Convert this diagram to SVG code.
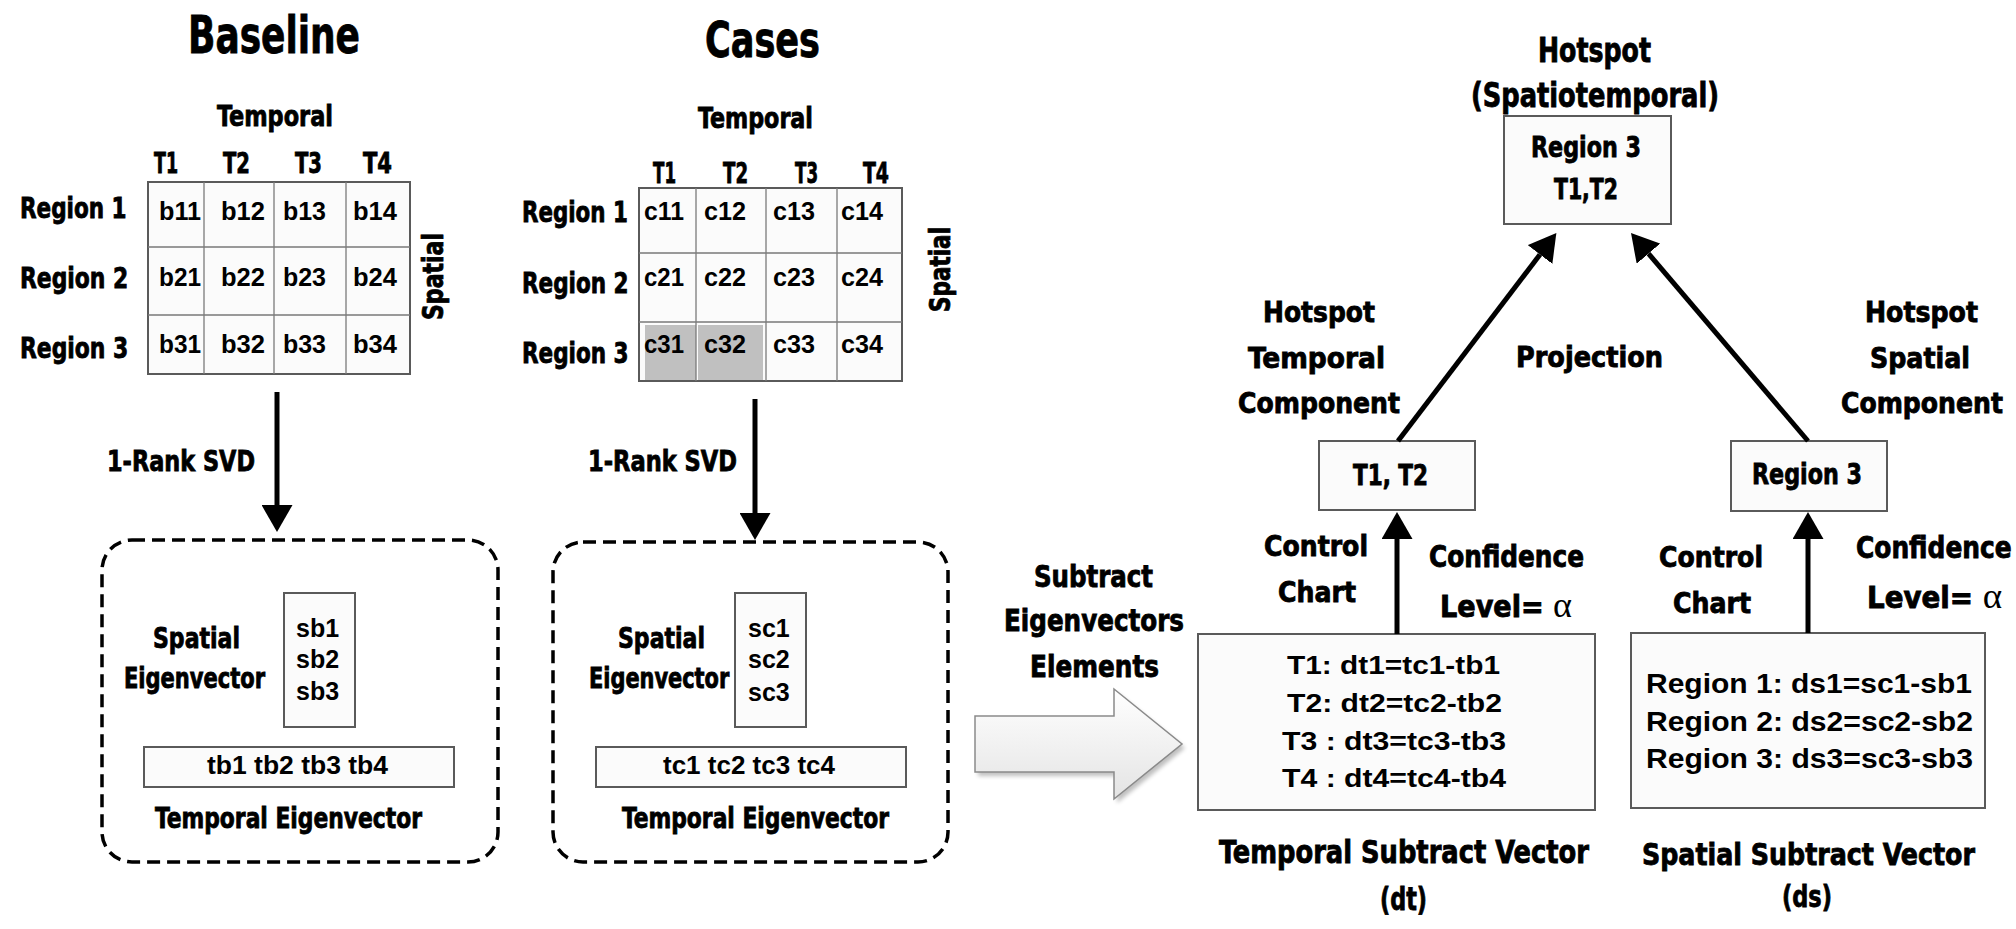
<svg xmlns="http://www.w3.org/2000/svg" width="2016" height="929" viewBox="0 0 2016 929">
<defs>
<style>
.h{font-family:"Liberation Sans Narrow","DejaVu Sans Condensed","DejaVu Sans",sans-serif;font-weight:bold;fill:#000;stroke:#000;stroke-width:0.8}
.a{font-family:"Liberation Sans",Arial,sans-serif;font-weight:bold;fill:#000}
.box{fill:#fbfbfb;stroke:#5a5a5a;stroke-width:2}
.grid{stroke:#7a7a7a;stroke-width:1.3;fill:none}
.dash{fill:none;stroke:#000;stroke-width:3.5;stroke-dasharray:13 7}
.conn{stroke:#000;stroke-width:5;fill:none}
.hl{fill:#c0c0c0}
.al{font-family:"Liberation Serif","DejaVu Serif",serif;font-weight:normal;stroke-width:0}
</style>
<marker id="ah" viewBox="0 0 27 31" markerWidth="27" markerHeight="31" refX="0" refY="15.5" orient="auto" markerUnits="userSpaceOnUse">
<path d="M0,0 L27,15.5 L0,31 z" fill="#000"/>
</marker>
<linearGradient id="bg" x1="0" y1="0" x2="0" y2="1">
<stop offset="0" stop-color="#ffffff"/>
<stop offset="1" stop-color="#e4e4e4"/>
</linearGradient>
<filter id="sh" x="-10%" y="-10%" width="130%" height="130%">
<feGaussianBlur stdDeviation="2"/>
</filter>
</defs>
<rect width="2016" height="929" fill="#fff"/>

<g id="baseline-matrix" font-size="29">
<text class="h" x="188" y="53" font-size="52" textLength="172" lengthAdjust="spacingAndGlyphs">Baseline</text>
<text class="h" x="217" y="126" textLength="116" lengthAdjust="spacingAndGlyphs">Temporal</text>
<text class="h" x="154" y="173" textLength="24" lengthAdjust="spacingAndGlyphs">T1</text>
<text class="h" x="223" y="173" textLength="27" lengthAdjust="spacingAndGlyphs">T2</text>
<text class="h" x="295" y="173" textLength="27" lengthAdjust="spacingAndGlyphs">T3</text>
<text class="h" x="363" y="173" textLength="29" lengthAdjust="spacingAndGlyphs">T4</text>
<text class="h" transform="translate(20,218) scale(0.82,1)" textLength="130" lengthAdjust="spacingAndGlyphs">Region 1</text>
<text class="h" transform="translate(20,288) scale(0.82,1)" textLength="132" lengthAdjust="spacingAndGlyphs">Region 2</text>
<text class="h" transform="translate(20,358) scale(0.82,1)" textLength="132" lengthAdjust="spacingAndGlyphs">Region 3</text>
<text class="h" transform="translate(443,277) rotate(-90)" x="-43" y="0" textLength="87" lengthAdjust="spacingAndGlyphs">Spatial</text>
<rect class="box" x="148" y="182" width="262" height="192"/>
<path class="grid" d="M204,182V374M274,182V374M346,182V374M148,247H410M148,315H410"/>
<g class="a" font-size="26">
<text x="159" y="220" textLength="42" lengthAdjust="spacingAndGlyphs">b11</text><text x="221" y="220" textLength="44" lengthAdjust="spacingAndGlyphs">b12</text><text x="283" y="220" textLength="43" lengthAdjust="spacingAndGlyphs">b13</text><text x="353" y="220" textLength="44" lengthAdjust="spacingAndGlyphs">b14</text>
<text x="159" y="286" textLength="42" lengthAdjust="spacingAndGlyphs">b21</text><text x="221" y="286" textLength="44" lengthAdjust="spacingAndGlyphs">b22</text><text x="283" y="286" textLength="43" lengthAdjust="spacingAndGlyphs">b23</text><text x="353" y="286" textLength="44" lengthAdjust="spacingAndGlyphs">b24</text>
<text x="159" y="353" textLength="42" lengthAdjust="spacingAndGlyphs">b31</text><text x="221" y="353" textLength="44" lengthAdjust="spacingAndGlyphs">b32</text><text x="283" y="353" textLength="43" lengthAdjust="spacingAndGlyphs">b33</text><text x="353" y="353" textLength="44" lengthAdjust="spacingAndGlyphs">b34</text>
</g>
</g>

<g id="cases-matrix" font-size="29">
<text class="h" x="705" y="57" font-size="50" textLength="115" lengthAdjust="spacingAndGlyphs">Cases</text>
<text class="h" x="698" y="128" textLength="115" lengthAdjust="spacingAndGlyphs">Temporal</text>
<text class="h" x="653" y="183" textLength="23" lengthAdjust="spacingAndGlyphs">T1</text>
<text class="h" x="723" y="183" textLength="25" lengthAdjust="spacingAndGlyphs">T2</text>
<text class="h" x="795" y="183" textLength="23" lengthAdjust="spacingAndGlyphs">T3</text>
<text class="h" x="863" y="183" textLength="26" lengthAdjust="spacingAndGlyphs">T4</text>
<text class="h" transform="translate(522,222) scale(0.82,1)" textLength="129" lengthAdjust="spacingAndGlyphs">Region 1</text>
<text class="h" transform="translate(522,293) scale(0.82,1)" textLength="130" lengthAdjust="spacingAndGlyphs">Region 2</text>
<text class="h" transform="translate(522,363) scale(0.82,1)" textLength="130" lengthAdjust="spacingAndGlyphs">Region 3</text>
<text class="h" transform="translate(950,270) rotate(-90)" x="-42" y="0" textLength="85" lengthAdjust="spacingAndGlyphs">Spatial</text>
<rect class="box" x="639" y="188" width="263" height="193"/>
<rect class="hl" x="645" y="325" width="51" height="55"/>
<rect class="hl" x="698" y="325" width="65" height="55"/>
<path class="grid" d="M696,188V381M766,188V381M837,188V381M639,253H902M639,322H902"/>
<g class="a" font-size="26">
<text x="644" y="220" textLength="40" lengthAdjust="spacingAndGlyphs">c11</text><text x="704" y="220" textLength="42" lengthAdjust="spacingAndGlyphs">c12</text><text x="773" y="220" textLength="42" lengthAdjust="spacingAndGlyphs">c13</text><text x="841" y="220" textLength="42" lengthAdjust="spacingAndGlyphs">c14</text>
<text x="644" y="286" textLength="40" lengthAdjust="spacingAndGlyphs">c21</text><text x="704" y="286" textLength="42" lengthAdjust="spacingAndGlyphs">c22</text><text x="773" y="286" textLength="42" lengthAdjust="spacingAndGlyphs">c23</text><text x="841" y="286" textLength="42" lengthAdjust="spacingAndGlyphs">c24</text>
<text x="644" y="353" textLength="40" lengthAdjust="spacingAndGlyphs">c31</text><text x="704" y="353" textLength="42" lengthAdjust="spacingAndGlyphs">c32</text><text x="773" y="353" textLength="42" lengthAdjust="spacingAndGlyphs">c33</text><text x="841" y="353" textLength="42" lengthAdjust="spacingAndGlyphs">c34</text>
</g>
</g>

<g id="baseline-eigen" font-size="29">
<rect class="dash" x="102" y="540" width="396" height="322" rx="30"/>
<rect class="box" x="284" y="593" width="71" height="134"/>
<g class="a" font-size="25">
<text x="296" y="637">sb1</text>
<text x="296" y="668">sb2</text>
<text x="296" y="700">sb3</text>
</g>
<text class="h" x="153" y="648" textLength="87" lengthAdjust="spacingAndGlyphs">Spatial</text>
<text class="h" transform="translate(124,688) scale(0.83,1)" font-size="28" textLength="170" lengthAdjust="spacingAndGlyphs">Eigenvector</text>
<rect class="box" x="144" y="747" width="310" height="40"/>
<text class="a" x="207" y="774" font-size="25" textLength="181" lengthAdjust="spacingAndGlyphs">tb1 tb2 tb3 tb4</text>
<text class="h" x="155" y="828" textLength="267" lengthAdjust="spacingAndGlyphs">Temporal Eigenvector</text>
</g>

<g id="cases-eigen" font-size="29">
<rect class="dash" x="553" y="542" width="395" height="320" rx="30"/>
<rect class="box" x="735" y="593" width="71" height="134"/>
<g class="a" font-size="25">
<text x="748" y="637">sc1</text>
<text x="748" y="668">sc2</text>
<text x="748" y="701">sc3</text>
</g>
<text class="h" x="618" y="648" textLength="87" lengthAdjust="spacingAndGlyphs">Spatial</text>
<text class="h" transform="translate(589,688) scale(0.83,1)" font-size="28" textLength="169" lengthAdjust="spacingAndGlyphs">Eigenvector</text>
<rect class="box" x="596" y="747" width="310" height="40"/>
<text class="a" x="663" y="774" font-size="25" textLength="172" lengthAdjust="spacingAndGlyphs">tc1 tc2 tc3 tc4</text>
<text class="h" x="622" y="828" textLength="267" lengthAdjust="spacingAndGlyphs">Temporal Eigenvector</text>
</g>

<g id="subtract-step" font-size="30">
<text class="h" x="1034" y="587" textLength="119" lengthAdjust="spacingAndGlyphs">Subtract</text>
<text class="h" x="1004" y="631" textLength="180" lengthAdjust="spacingAndGlyphs">Eigenvectors</text>
<text class="h" x="1030" y="677" textLength="129" lengthAdjust="spacingAndGlyphs">Elements</text>
<polygon points="975,716 1114,716 1114,689 1182,744 1114,799 1114,772 975,772" fill="#000" opacity="0.25" filter="url(#sh)" transform="translate(3,4)"/>
<polygon points="975,716 1114,716 1114,689 1182,744 1114,799 1114,772 975,772" fill="url(#bg)" stroke="#8a8a8a" stroke-width="1.5"/>
</g>

<g id="temporal-subtract" font-size="29">
<rect class="box" x="1198" y="634" width="397" height="176"/>
<g class="a" font-size="26">
<text x="1287" y="674" textLength="213" lengthAdjust="spacingAndGlyphs">T1: dt1=tc1-tb1</text>
<text x="1287" y="712" textLength="215" lengthAdjust="spacingAndGlyphs">T2: dt2=tc2-tb2</text>
<text x="1282" y="750" textLength="224" lengthAdjust="spacingAndGlyphs">T3 : dt3=tc3-tb3</text>
<text x="1282" y="787" textLength="224" lengthAdjust="spacingAndGlyphs">T4 : dt4=tc4-tb4</text>
</g>
<text class="h" x="1219" y="863" font-size="32" textLength="370" lengthAdjust="spacingAndGlyphs">Temporal Subtract Vector</text>
<text class="h" x="1380" y="910" font-size="32" textLength="47" lengthAdjust="spacingAndGlyphs">(dt)</text>
<text class="h" x="1264" y="556" textLength="104" lengthAdjust="spacingAndGlyphs">Control</text>
<text class="h" x="1278" y="602" textLength="78" lengthAdjust="spacingAndGlyphs">Chart</text>
<text class="h" x="1429" y="567" font-size="30" textLength="155" lengthAdjust="spacingAndGlyphs">Confidence</text>
<text class="h" x="1440" y="617" font-size="30" textLength="132" lengthAdjust="spacingAndGlyphs">Level= <tspan class="al" font-size="36">α</tspan></text>
</g>

<g id="spatial-subtract" font-size="29">
<rect class="box" x="1631" y="633" width="354" height="175"/>
<g class="a" font-size="28">
<text x="1646" y="693" textLength="326" lengthAdjust="spacingAndGlyphs">Region 1: ds1=sc1-sb1</text>
<text x="1646" y="731" textLength="327" lengthAdjust="spacingAndGlyphs">Region 2: ds2=sc2-sb2</text>
<text x="1646" y="768" textLength="327" lengthAdjust="spacingAndGlyphs">Region 3: ds3=sc3-sb3</text>
</g>
<text class="h" x="1642" y="865" font-size="31" textLength="333" lengthAdjust="spacingAndGlyphs">Spatial Subtract Vector</text>
<text class="h" x="1782" y="907" font-size="31" textLength="50" lengthAdjust="spacingAndGlyphs">(ds)</text>
<text class="h" x="1659" y="567" textLength="104" lengthAdjust="spacingAndGlyphs">Control</text>
<text class="h" x="1673" y="613" textLength="78" lengthAdjust="spacingAndGlyphs">Chart</text>
<text class="h" transform="translate(1856,558) scale(0.9,1)" font-size="30" textLength="173" lengthAdjust="spacingAndGlyphs">Confidence</text>
<text class="h" transform="translate(1867,608) scale(0.9,1)" font-size="30" textLength="150" lengthAdjust="spacingAndGlyphs">Level= <tspan class="al" font-size="36">α</tspan></text>
</g>

<g id="temporal-component" font-size="29">
<rect class="box" x="1319" y="441" width="156" height="69"/>
<text class="h" x="1353" y="485" textLength="75" lengthAdjust="spacingAndGlyphs">T1, T2</text>
<text class="h" x="1263" y="322" textLength="112" lengthAdjust="spacingAndGlyphs">Hotspot</text>
<text class="h" x="1248" y="368" textLength="137" lengthAdjust="spacingAndGlyphs">Temporal</text>
<text class="h" x="1238" y="413" textLength="162" lengthAdjust="spacingAndGlyphs">Component</text>
</g>

<g id="spatial-component" font-size="29">
<rect class="box" x="1731" y="441" width="156" height="70"/>
<text class="h" x="1752" y="484" textLength="110" lengthAdjust="spacingAndGlyphs">Region 3</text>
<text class="h" x="1865" y="322" textLength="113" lengthAdjust="spacingAndGlyphs">Hotspot</text>
<text class="h" x="1870" y="368" textLength="100" lengthAdjust="spacingAndGlyphs">Spatial</text>
<text class="h" transform="translate(1841,413) scale(0.92,1)" textLength="176" lengthAdjust="spacingAndGlyphs">Component</text>
</g>

<g id="hotspot" font-size="29">
<text class="h" x="1538" y="62" font-size="33" textLength="113" lengthAdjust="spacingAndGlyphs">Hotspot</text>
<text class="h" x="1471" y="107" font-size="33" textLength="248" lengthAdjust="spacingAndGlyphs">(Spatiotemporal)</text>
<rect class="box" x="1504" y="116" width="167" height="108"/>
<text class="h" x="1531" y="157" textLength="110" lengthAdjust="spacingAndGlyphs">Region 3</text>
<text class="h" x="1554" y="199" textLength="64" lengthAdjust="spacingAndGlyphs">T1,T2</text>
</g>

<g id="labels" font-size="29">
<text class="h" x="107" y="471" textLength="148" lengthAdjust="spacingAndGlyphs">1-Rank SVD</text>
<text class="h" x="588" y="471" textLength="149" lengthAdjust="spacingAndGlyphs">1-Rank SVD</text>
<text class="h" x="1516" y="367" textLength="147" lengthAdjust="spacingAndGlyphs">Projection</text>
</g>

<g id="connectors">
<line class="conn" x1="277" y1="392" x2="277" y2="505" marker-end="url(#ah)"/>
<line class="conn" x1="755" y1="399" x2="755" y2="513" marker-end="url(#ah)"/>
<line class="conn" x1="1397" y1="634" x2="1397" y2="539" marker-end="url(#ah)"/>
<line class="conn" x1="1808" y1="633" x2="1808" y2="539" marker-end="url(#ah)"/>
<line class="conn" x1="1398" y1="441" x2="1540" y2="254.5" marker-end="url(#ah)"/>
<line class="conn" x1="1808" y1="441" x2="1648.5" y2="253.6" marker-end="url(#ah)"/>
</g>
</svg>
